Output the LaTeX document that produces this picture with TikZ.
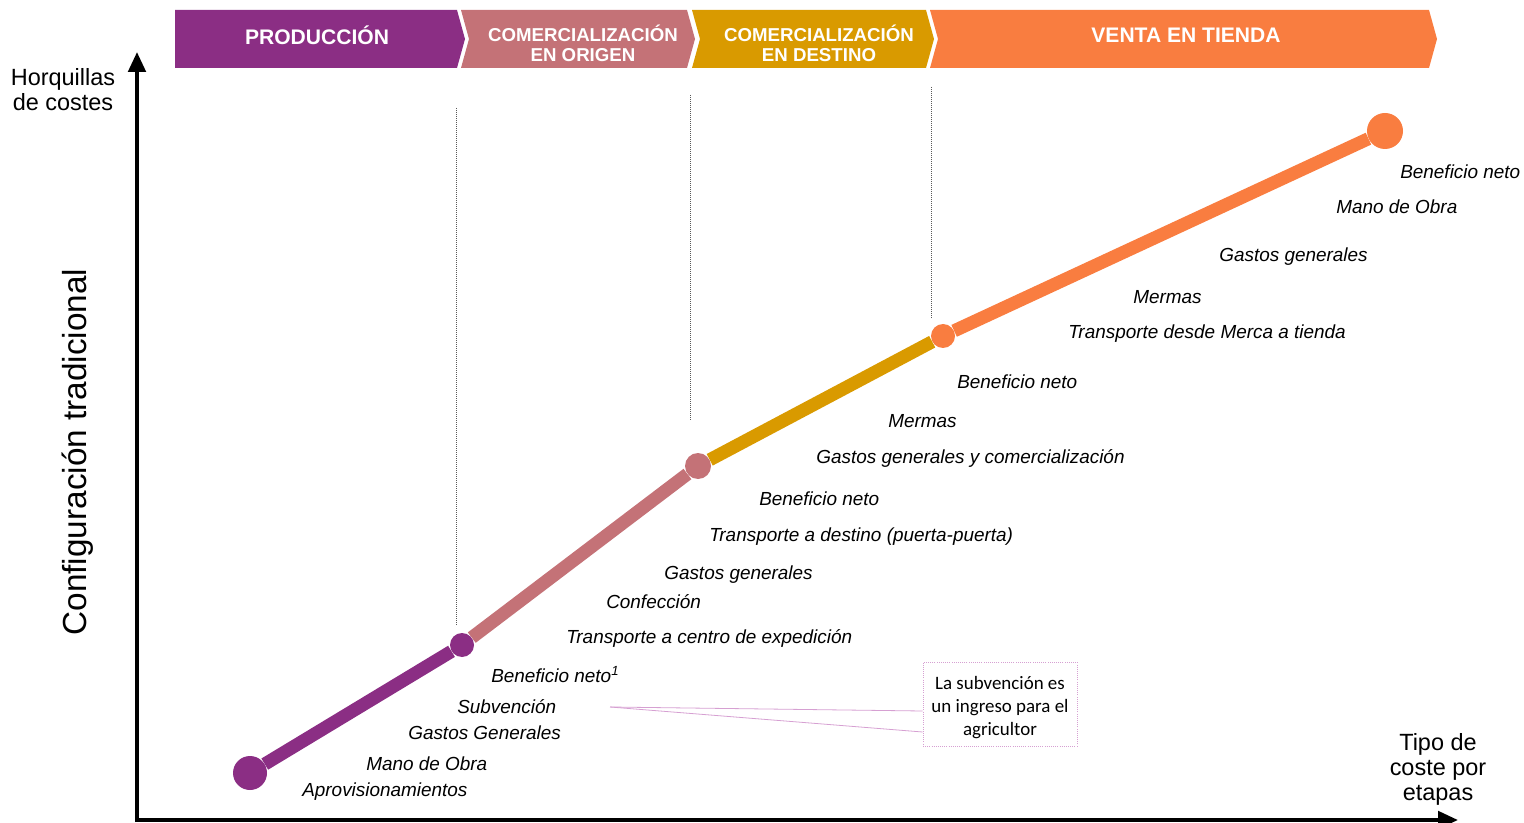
\documentclass[tikz,border=0pt]{standalone}
\usepackage{fontspec}
\setmainfont{Liberation Sans}
\newfontfamily\calibri{Carlito}
\usetikzlibrary{arrows.meta, positioning}

\definecolor{produccion}{HTML}{8B2E84}
\definecolor{origen}{HTML}{C47277}
\definecolor{destino}{HTML}{D99A00}
\definecolor{tienda}{HTML}{F97D40}
\definecolor{rosa}{HTML}{D6A0D2}

\begin{document}
\begin{tikzpicture}[x=0.75pt,y=-0.75pt,>={Triangle[length=15pt,width=13pt]},
    eje/.style={line width=3pt,->},
    etapa/.style={text=white,font=\bfseries\fontsize{15.8}{17}\selectfont,align=center,inner sep=0},
    etapa2/.style={etapa,font=\bfseries\fontsize{14}{15}\selectfont},
    punto/.style={circle,fill,inner sep=0},
    tramo/.style={line width=9.8pt},
    coste/.style={anchor=base west,inner sep=0,font=\itshape\fontsize{14.2}{17}\selectfont},
    guia/.style={densely dotted,line width=0.5pt,black!65},
    titulo/.style={align=center,font=\fontsize{17.6}{18.8}\selectfont}]

\useasboundingbox (0,0) rectangle (1524,823);

% etapas
\fill[produccion] (175,10) -- (457,10) -- (465,39) -- (457,68) -- (175,68) -- cycle;
\fill[origen] (461,10) -- (687,10) -- (695,39) -- (687,68) -- (461,68) -- (469,39) -- cycle;
\fill[destino] (692,10) -- (926,10) -- (934,39) -- (926,68) -- (692,68) -- (700,39) -- cycle;
\fill[tienda] (930,10) -- (1429,10) -- (1437,39) -- (1429,68) -- (930,68) -- (938,39) -- cycle;
\node[etapa]  (prod) at (317,35) {PRODUCCIÓN};
\node[etapa2] (orig) at (583,43) {COMERCIALIZACIÓN\\EN ORIGEN};
\node[etapa2] (dest) at (819,43) {COMERCIALIZACIÓN\\EN DESTINO};
\node[etapa]  (vent) at (1186,35) {VENTA EN TIENDA};

% ejes
\coordinate (origen) at (137,822);
\coordinate (ytop) at (137,52);
\coordinate (xend) at (1458,820);
\draw[eje] (origen) -- (ytop);
\draw[eje] (135,820) -- (xend);
\node[titulo] (ylab) at (63,90) {Horquillas\\de costes};
\node[titulo] (xlab) at (1438,769) {Tipo de\\coste por\\etapas};
\node[rotate=90,font=\fontsize{25}{30}\selectfont] (conf) at (78,452) {Configuración tradicional};

% separaciones
\draw[guia] (456,108) -- (456,625);
\draw[guia] (690,95) -- (690,420);
\draw[guia] (931,87) -- (931,318);

% puntos
\node[punto,produccion,minimum size=25.5pt] (p0) at (250,773) {};
\node[punto,produccion,minimum size=18pt]   (p1) at (462,645) {};
\node[punto,origen,minimum size=19.5pt]     (p2) at (698,466) {};
\node[punto,tienda,minimum size=18pt]       (p3) at (943,336) {};
\node[punto,tienda,minimum size=27pt]       (p4) at (1385,131) {};
\path[tramo]
(p0) edge[produccion] (p1)
(p1) edge[origen] (p2)
(p2) edge[destino] (p3)
(p3) edge[tienda] (p4);

% costes
\node[coste] (bn4) at (1400,179) {Beneficio neto};
\node[coste] (mo4) at (1336,214) {Mano de Obra};
\node[coste] (gg4) at (1219,262) {Gastos generales};
\node[coste] (me4) at (1133,304) {Mermas};
\node[coste] (tr4) at (1068,339) {Transporte desde Merca a tienda};
\node[coste] (bn3) at (957,389) {Beneficio neto};
\node[coste] (me3) at (888,427) {Mermas};
\node[coste] (gg3) at (816,463) {Gastos generales y comercialización};
\node[coste] (bn2) at (759,505) {Beneficio neto};
\node[coste] (td2) at (709,541) {Transporte a destino (puerta-puerta)};
\node[coste] (gg2) at (664,579) {Gastos generales};
\node[coste] (co2) at (606,608) {Confección};
\node[coste] (tc2) at (566,643) {Transporte a centro de expedición};
\node[coste] (bn1) at (491,682) {Beneficio neto\textsuperscript{1}};
\node[coste] (su1) at (457,713) {Subvención};
\node[coste] (gg1) at (408,739) {Gastos Generales};
\node[coste] (mo1) at (366,770) {Mano de Obra};
\node[coste] (ap1) at (302,796) {Aprovisionamientos};

% nota
\node[draw=rosa,densely dotted,line width=0.6pt,minimum width=115.5pt,minimum height=63pt] (nota) at (1000,704) {};
\node[align=center,font=\calibri\fontsize{14.2}{17.25}\selectfont] (notatxt) at (1000,708)
      {La subvención es\\un ingreso para el\\agricultor};
\coordinate (punta) at (610,707);
\draw[rosa,line width=0.6pt] (punta) -- ([yshift=-5.25pt]nota.west);
\draw[rosa,line width=0.6pt] (punta) -- ([yshift=-21pt]nota.west);
\end{tikzpicture}
\end{document}
